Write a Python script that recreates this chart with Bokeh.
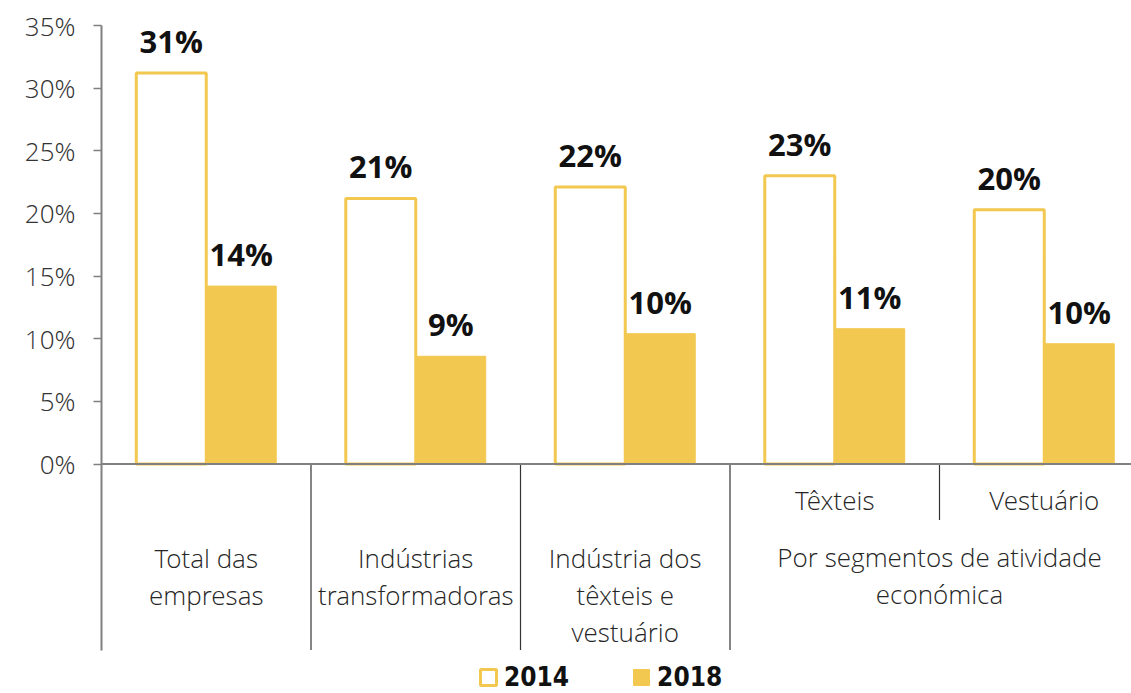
from bokeh.plotting import figure
from bokeh.models import Range1d, FixedTicker, Span, ColumnDataSource, Legend, LegendItem
from bokeh.core.properties import value
from bokeh.embed import file_html
from bokeh.resources import INLINE

# ---- data ----
categories = ["Total das\nempresas", "Indústrias\ntransformadoras",
              "Indústria dos\ntêxteis e\nvestuário", "Têxteis", "Vestuário"]
group_label = "Por segmentos de atividade\neconómica"
v2014 = [31.2, 21.2, 22.1, 23.0, 20.3]
v2018 = [14.2, 8.6, 10.4, 10.8, 9.6]
lab2014 = ["31%", "21%", "22%", "23%", "20%"]
lab2018 = ["14%", "9%", "10%", "11%", "10%"]
y_ticks = [0, 5, 10, 15, 20, 25, 30, 35]
y_tick_labels = ["0%", "5%", "10%", "15%", "20%", "25%", "30%", "35%"]

YEL = "#F2C850"
FONT = "Open Sans Light"
PXU = 35.0 / 438.5          # data units per screen pixel (vertical)

p = figure(width=1131, height=693, output_backend="svg", toolbar_location=None,
           x_range=Range1d(0, 1030 / 209.5), y_range=Range1d(35 - 668 * PXU, 35),
           min_border_left=101, min_border_right=0, min_border_top=25, min_border_bottom=0,
           x_axis_location=None)
p.grid.visible = False
p.outline_line_color = None
p.background_fill_color = "white"

n = len(categories)
xc = [i + 0.5 for i in range(n)]
dx = 0.167
bw = 0.334

s14 = ColumnDataSource(dict(x=[c - dx for c in xc], top=v2014, lab=lab2014,
                            ly=[v + 32 * PXU for v in v2014]))
s18 = ColumnDataSource(dict(x=[c + dx for c in xc], top=v2018, lab=lab2018,
                            ly=[v + 32 * PXU for v in v2018]))

r14 = p.vbar(x="x", top="top", bottom=0, width=bw, source=s14, fill_color="white",
             line_color=YEL, line_width=3)
r18 = p.vbar(x="x", top="top", bottom=0, width=bw, source=s18, fill_color=YEL,
             line_color=YEL, line_width=1)

for s in (s14, s18):
    p.text(x="x", y="ly", text="lab", source=s, text_align="center",
           text_baseline="alphabetic", text_font=value("Open Sans"), text_font_style="bold",
           text_font_size="31px", text_color="#111111")

# baseline (x axis line)
p.add_layout(Span(location=0, dimension="width", line_color="#808080", line_width=2))

# separators
sep_x = [1, 2, 3, 4]
sep_bottom = [-186 * PXU, -186 * PXU, -186 * PXU, -56 * PXU]
p.segment(x0=sep_x, y0=[0] * 4, x1=sep_x, y1=sep_bottom, line_color="#333333", line_width=1.2)

# category labels
tx, ty, tt = [], [], []
for i in range(3):
    for j, line in enumerate(categories[i].split("\n")):
        tx.append(xc[i]); ty.append(-(558 - 464 + 37 * j) * PXU); tt.append(line)
for i in (3, 4):
    tx.append(xc[i]); ty.append(-(500 - 464) * PXU); tt.append(categories[i])
for j, line in enumerate(group_label.split("\n")):
    tx.append(4.0); ty.append(-(557 - 464 + 37 * j) * PXU); tt.append(line)
p.text(x=tx, y=ty, text=tt, text_align="center", text_baseline="alphabetic",
       text_font=value(FONT), text_font_size="26px", text_color="#262626")

# y axis
ax = p.yaxis[0]
ax.ticker = FixedTicker(ticks=y_ticks)
ax.major_label_overrides = {t: l for t, l in zip(y_ticks, y_tick_labels)}
ax.bounds = (-186 * PXU, 35)
ax.axis_line_color = "#808080"
ax.axis_line_width = 2
ax.major_tick_line_color = "#808080"
ax.major_tick_line_width = 1.5
ax.major_tick_out = 8
ax.major_tick_in = 0
ax.minor_tick_line_color = None
ax.major_label_standoff = 18
ax.major_label_text_font = FONT
ax.major_label_text_font_size = "26px"
ax.major_label_text_color = "#333333"

legend = Legend(items=[LegendItem(label=value("2014"), renderers=[r14]),
                       LegendItem(label=value("2018"), renderers=[r18])],
                orientation="horizontal", location=(377, 1),
                glyph_width=20, glyph_height=20, label_standoff=6, spacing=62,
                padding=0, margin=0, border_line_color=None, background_fill_alpha=0,
                label_text_font="DejaVu Sans Condensed", label_text_font_style="bold",
                label_text_font_size="26px", label_text_color="#111111")
p.add_layout(legend)

open("out.html", "w").write(file_html(p, INLINE))
